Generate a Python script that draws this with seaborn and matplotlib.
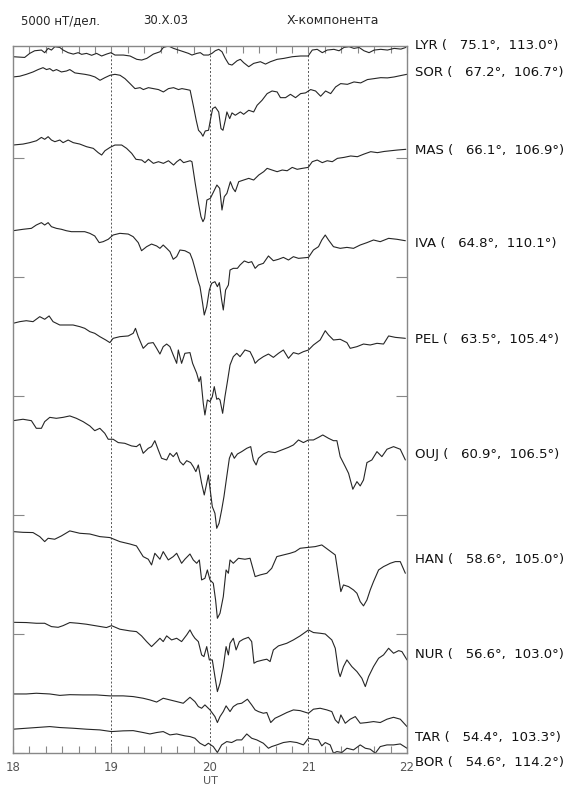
import numpy as np
import pandas as pd
import matplotlib
matplotlib.use('Agg')
import matplotlib.pyplot as plt
import matplotlib.transforms as mtransforms
import seaborn as sns

# stations, geomagnetic coordinates
stations = ['LYR', 'SOR', 'MAS', 'IVA', 'PEL', 'OUJ', 'HAN', 'NUR', 'TAR', 'BOR']
lats = [75.1, 67.2, 66.1, 64.8, 63.5, 60.9, 58.6, 56.6, 54.4, 54.6]
lons = [113.0, 106.7, 106.9, 110.1, 105.4, 106.5, 105.0, 103.0, 103.3, 114.2]

# X component, minutes after 18 UT and deviation (nT) from 18 UT value
lyr_t = [0, 7.1, 10.2, 13.2, 17.3, 19.3, 21.4, 23.4, 25.5, 28.5, 30.5, 33.6, 36.7, 39.7, 41.8, 44.8, 47.9, 50.9, 54.0, 57.0,
         59.7, 62.1, 67.2, 71.3, 75.4, 78.4, 81.5, 85.5, 89.6, 91.6, 94.7, 97.8, 100.8, 103.9, 106.9, 109.0, 112.0, 114.1,
         116.1, 119.1, 121.2, 123.2, 125.3, 127.3, 129.3, 131.4, 133.4, 136.5, 138.5, 140.5, 143.6, 146.6, 150.7, 153.8,
         156.8, 160.9, 165.0, 170.1, 175.2, 179.8, 182.3, 185.3, 188.4, 191.4, 195.5, 198.6, 201.6, 204.7, 207.7, 210.8,
         213.8, 216.9, 220.0, 224.0, 228.1, 232.2, 236.3, 239.3]
lyr_x = [0, -30, 140, 250, 280, 170, 350, 280, 420, 390, 280, 170, 110, 170, 100, 140, 60, 140, 30, 110,
         170, 70, 70, 30, -110, -140, -70, 110, 210, 390, 450, 350, 280, 210, 140, 70, 140, 170,
         70, 70, 140, 250, 310, 210, -70, -310, -350, -170, -110, -250, -420, -280, -210, -310,
         -210, -110, -70, 0, 30, 30, 280, 310, 170, 280, 310, 250, 390, 420, 350, 390,
         250, 170, 280, 310, 280, 350, 320, 390]

sor_t = [0, 4.1, 8.1, 12.2, 15.3, 18.3, 20.4, 22.4, 24.4, 26.5, 29.5, 32.6, 34.6, 37.7, 40.7, 43.8, 46.8, 49.9, 53.0, 56.0,
         59.1, 62.1, 65.2, 68.2, 71.3, 74.3, 77.4, 79.4, 82.5, 85.5, 88.6, 91.6, 94.7, 97.8, 100.8, 102.9, 105.9, 107.9,
         110.0, 111.6, 113.0, 114.5, 115.7, 117.1, 119.1, 120.2, 121.6, 123.2, 125.3, 126.7, 127.9, 129.3, 130.3, 132.0,
         133.4, 135.4, 138.5, 140.5, 143.6, 146.6, 148.7, 151.7, 154.8, 157.8, 160.9, 162.9, 166.0, 169.0, 172.1, 175.2,
         178.2, 181.3, 184.3, 187.4, 190.4, 193.5, 196.5, 199.6, 203.7, 207.7, 211.8, 215.9, 220.0, 224.0, 228.1, 232.2,
         236.3, 239.9]
sor_x = [0, 30, 110, 210, 310, 390, 310, 350, 250, 310, 210, 250, 310, 170, 140, 110, 70, 0, -140, -30,
         70, 110, 70, -70, -280, -490, -450, -530, -450, -490, -530, -630, -490, -450, -530, -490, -530, -560,
         -1260, -1820, -2240, -2350, -2490, -2270, -2240, -1820, -1330, -1260, -1470, -2170, -2240, -1820, -1470, -1750,
         -1510, -1610, -1470, -1570, -1400, -1470, -1190, -980, -700, -590, -630, -870, -870, -730, -870, -700,
         -670, -530, -590, -810, -590, -700, -420, -280, -310, -210, -250, -110, -70, -30, -40, 0,
         60, 110]

mas_t = [0, 6.1, 10.2, 14.3, 17.3, 19.3, 21.4, 23.4, 25.5, 28.5, 30.5, 33.6, 36.7, 40.7, 44.8, 48.9, 51.9, 54.0, 56.0, 59.1,
         62.1, 66.2, 69.2, 72.3, 74.9, 78.4, 80.4, 82.5, 85.5, 88.6, 91.6, 94.7, 97.8, 99.8, 101.8, 103.9, 105.9, 107.9,
         109.0, 111.0, 113.0, 114.5, 115.7, 116.7, 118.1, 120.2, 122.2, 124.2, 125.9, 127.3, 128.7, 130.3, 132.4, 134.0,
         135.4, 137.5, 140.5, 143.6, 146.6, 149.7, 152.7, 154.8, 157.8, 160.9, 164.0, 167.0, 170.1, 173.1, 176.2, 179.8,
         182.3, 185.3, 188.4, 191.4, 194.5, 197.6, 201.6, 205.7, 209.8, 213.8, 217.9, 222.0, 226.1, 230.1, 234.2, 239.3]
mas_x = [0, 40, 100, 180, 320, 240, 350, 210, 140, 210, 100, 210, 100, 40, -70, -140, -320, -420, -240, -100,
         0, 0, -140, -350, -600, -630, -740, -600, -770, -700, -770, -660, -840, -700, -600, -740, -700, -660,
         -700, -1610, -2450, -3010, -3220, -3080, -2310, -2240, -1960, -1680, -1820, -2730, -2170, -2030, -1540, -1820,
         -1960, -1540, -1470, -1400, -1470, -1260, -1120, -980, -1050, -1120, -1050, -1080, -940, -1020, -980, -940,
         -700, -630, -740, -660, -700, -560, -520, -460, -490, -380, -280, -320, -270, -240, -210, -180]

iva_t = [0, 6.1, 11.2, 14.2, 17.3, 19.3, 21.4, 23.4, 26.4, 29.5, 32.5, 35.6, 39.7, 43.7, 46.8, 49.8, 52.5, 54.9, 58.0, 61.0,
         65.1, 70.2, 73.2, 76.3, 78.3, 81.4, 84.4, 87.5, 89.5, 91.5, 93.6, 95.6, 97.6, 99.7, 101.7, 104.7, 107.8, 109.4,
         110.8, 112.9, 113.9, 115.5, 116.5, 118.0, 119.6, 121.0, 123.0, 124.5, 125.7, 127.1, 128.1, 129.5, 131.2, 132.2,
         134.2, 136.7, 138.3, 140.9, 143.4, 145.4, 147.5, 149.5, 152.5, 155.6, 158.6, 161.7, 164.7, 167.8, 170.8, 173.9,
         180.0, 183.0, 186.1, 188.1, 190.2, 192.2, 195.2, 199.3, 203.4, 207.4, 211.5, 215.6, 219.6, 223.7, 228.8, 233.9,
         239.0]
iva_x = [0, 60, 100, 240, 340, 240, 340, 170, 100, 60, 0, -40, -40, -40, -110, -220, -500, -460, -360, -180,
         -110, -140, -250, -500, -840, -670, -560, -640, -740, -600, -740, -880, -1200, -1090, -810, -840, -950, -1230,
         -1580, -2140, -2350, -3050, -3540, -3190, -2490, -2210, -2140, -2350, -2180, -2910, -3330, -2490, -2280, -1650,
         -1580, -1580, -1440, -1270, -1340, -1300, -1580, -1440, -1370, -1060, -1260, -1200, -1120, -1230, -1090, -1160,
         -1120, -810, -670, -390, -180, -390, -670, -740, -700, -740, -600, -500, -390, -460, -320, -360,
         -420]

pel_t = [0, 4.1, 8.1, 12.2, 16.3, 19.3, 22.0, 24.4, 28.5, 32.5, 36.6, 40.7, 43.7, 46.8, 49.8, 52.9, 56.5, 59.0, 61.0, 65.1,
         70.2, 73.2, 74.6, 76.3, 79.3, 82.4, 85.4, 87.5, 89.5, 91.5, 93.6, 95.6, 97.6, 99.7, 100.7, 102.7, 104.7, 107.8,
         109.4, 111.9, 113.3, 114.3, 115.9, 116.9, 118.4, 120.0, 121.4, 122.6, 124.1, 125.1, 126.1, 127.7, 129.1, 130.6,
         132.2, 134.2, 136.3, 138.3, 141.3, 144.4, 146.4, 147.5, 149.5, 152.5, 155.6, 158.6, 161.7, 164.7, 167.8, 170.8,
         173.9, 176.9, 180.0, 183.0, 187.1, 190.2, 192.2, 195.2, 199.3, 203.4, 205.4, 209.5, 213.5, 217.6, 221.7, 225.7,
         228.8, 232.9, 239.0]
pel_x = [0, 70, 110, 70, 280, 170, 310, 70, -70, -70, -70, -140, -210, -350, -420, -560, -700, -810, -630, -560,
         -530, -420, -210, -560, -1050, -840, -810, -1050, -1290, -980, -870, -980, -1330, -1680, -1120, -1680, -1260, -1230,
         -1680, -2100, -2450, -2240, -3360, -3850, -3220, -3290, -3080, -2660, -3190, -3150, -3220, -3780, -3080, -2450,
         -1750, -1400, -1260, -1400, -1120, -1190, -1470, -1680, -1540, -1400, -1290, -1430, -1260, -1120, -1470, -1230,
         -1290, -1190, -1120, -910, -700, -310, -490, -700, -670, -810, -1050, -980, -870, -910, -840, -870,
         -530, -590, -630]

ouj_t = [0, 6.1, 11.2, 14.2, 17.3, 19.3, 22.4, 26.4, 30.5, 34.6, 38.6, 42.7, 46.8, 49.8, 52.9, 55.9, 58.0, 61.0, 64.1, 68.1,
         72.2, 75.2, 77.3, 79.3, 82.4, 84.4, 86.4, 88.5, 90.5, 93.6, 95.6, 97.6, 99.7, 101.7, 103.7, 105.8, 108.2, 109.8,
         111.4, 112.9, 114.9, 116.5, 118.0, 119.0, 120.0, 121.4, 123.0, 124.1, 125.5, 127.1, 128.5, 130.2, 131.8, 133.2,
         134.8, 136.7, 139.3, 142.4, 144.8, 146.4, 148.1, 149.5, 152.5, 155.6, 159.6, 163.7, 167.8, 170.8, 173.9, 176.9,
         180.0, 183.0, 186.1, 188.7, 192.2, 195.2, 197.3, 199.3, 202.4, 204.4, 207.0, 209.5, 211.5, 213.5, 215.6, 218.6,
         221.7, 224.7, 227.8, 231.8, 235.9, 239.0]
ouj_x = [0, 60, 0, -320, -320, -40, 140, 100, 140, 200, 100, -40, -220, -420, -320, -530, -780, -780, -920, -950,
         -1060, -1090, -980, -1370, -1160, -1090, -840, -1230, -1580, -1650, -1370, -1510, -1340, -1720, -1860, -1680, -1760, -1930,
         -2140, -1860, -2630, -3120, -2630, -2280, -2840, -3610, -3890, -4520, -4310, -3750, -3190, -2350, -1580, -1340,
         -1580, -1400, -1300, -1160, -1090, -1650, -1860, -1580, -1400, -1300, -1340, -1230, -1120, -1020, -810, -920,
         -810, -810, -700, -600, -740, -840, -840, -1510, -1930, -2210, -2880, -2560, -2740, -2490, -1760, -1650,
         -1300, -1510, -1200, -1090, -1200, -1650]

han_t = [0, 6.1, 12.2, 16.3, 19.3, 21.4, 25.4, 29.5, 34.6, 40.7, 46.8, 52.9, 59.0, 65.1, 71.2, 75.2, 79.3, 82.4, 84.4, 86.4,
         89.5, 91.5, 94.6, 97.6, 99.7, 102.7, 104.7, 107.8, 109.8, 111.9, 113.5, 114.9, 116.9, 118.4, 120.0, 122.0, 123.4,
         124.5, 126.1, 128.1, 129.8, 131.2, 132.2, 134.2, 137.3, 141.3, 144.4, 147.5, 150.5, 154.6, 157.6, 160.7, 164.7,
         168.8, 171.9, 174.9, 180.0, 184.1, 188.1, 192.2, 196.3, 198.3, 199.7, 201.3, 204.4, 207.4, 209.5, 211.5, 213.5,
         215.6, 217.6, 219.6, 222.7, 225.7, 227.8, 229.8, 232.9, 235.9, 239.0]
han_x = [0, -30, -40, -210, -420, -280, -320, -180, 30, -70, -100, -210, -250, -420, -520, -600, -1050, -1160, -1400, -910,
         -1160, -840, -1190, -1050, -910, -1330, -1160, -940, -1190, -1330, -1190, -2030, -1960, -1610, -2030, -2170, -2870,
         -3640, -3430, -2730, -1610, -1750, -1190, -1330, -1120, -1160, -1120, -1890, -1820, -1750, -1540, -1050, -980,
         -910, -840, -700, -660, -630, -560, -770, -980, -1890, -2520, -2240, -2310, -2450, -2590, -2940, -3120,
         -2870, -2450, -2100, -1610, -1470, -1400, -1330, -1260, -1260, -1750]

nur_t = [0, 8.1, 14.2, 19.3, 23.4, 27.5, 30.5, 34.6, 39.7, 44.7, 50.8, 56.9, 60.0, 65.1, 71.2, 75.2, 78.3, 81.4, 84.4, 87.5,
         89.5, 91.5, 93.6, 96.6, 99.7, 102.7, 105.8, 107.8, 109.4, 110.8, 112.9, 114.9, 116.3, 118.0, 119.6, 121.4, 123.0,
         124.5, 126.1, 128.1, 129.8, 131.2, 132.2, 134.2, 135.9, 137.9, 140.3, 143.4, 145.4, 146.8, 148.5, 152.5, 154.6,
         156.6, 158.6, 161.7, 166.8, 170.8, 174.9, 180.0, 183.0, 187.1, 190.2, 194.2, 196.3, 198.3, 199.3, 201.3, 203.4,
         206.4, 209.5, 212.5, 214.6, 216.6, 219.6, 222.7, 225.7, 228.8, 231.8, 234.9, 236.9, 240.0]
nur_x = [0, -10, -40, -40, -180, -210, -140, -10, -40, -80, -150, -220, -140, -290, -360, -390, -570, -810, -1020, -810,
         -670, -810, -570, -740, -670, -810, -530, -320, -530, -670, -810, -1370, -1440, -1020, -1580, -1580, -2280,
         -2910, -2560, -1860, -1020, -1370, -880, -670, -1160, -810, -710, -630, -810, -1720, -1650, -1580, -1550,
         -1650, -1160, -990, -880, -740, -570, -320, -430, -460, -490, -740, -1090, -2070, -2280, -1860, -1580,
         -1860, -2070, -2350, -2700, -2280, -1860, -1510, -1370, -1090, -1300, -1190, -1230, -1580]

tar_t = [0, 8.1, 14.2, 22.4, 28.5, 34.6, 42.7, 50.8, 59.0, 67.1, 73.2, 79.3, 83.4, 87.5, 91.5, 95.6, 99.7, 103.7, 107.8, 110.8,
         112.9, 114.9, 116.9, 120.0, 123.0, 124.5, 126.1, 128.1, 129.8, 132.2, 134.2, 136.7, 139.3, 142.8, 145.4, 147.5,
         149.5, 152.5, 154.6, 157.0, 159.6, 162.7, 166.8, 170.8, 174.9, 180.0, 183.0, 187.1, 191.2, 194.2, 196.3, 198.3,
         199.7, 202.4, 205.4, 208.5, 211.5, 215.6, 219.6, 223.7, 227.8, 231.8, 235.9, 240.0]
tar_x = [0, 0, 30, 0, -60, -30, -40, -40, -80, -80, -110, -180, -250, -340, -180, -250, -320, -390, -140, -320,
         -530, -600, -460, -670, -950, -1200, -950, -740, -500, -740, -530, -420, -390, -220, -460, -670,
         -740, -810, -780, -1200, -1020, -920, -780, -670, -700, -810, -640, -600, -670, -740, -1090, -1230,
         -880, -1230, -1060, -950, -1230, -1200, -1160, -1200, -1060, -980, -1060, -1370]

bor_t = [0, 8.1, 14.2, 22.4, 28.5, 36.6, 44.7, 52.9, 60.0, 67.1, 73.2, 79.3, 83.4, 87.5, 91.5, 95.6, 99.7, 104.7, 107.8, 110.8,
         113.9, 116.9, 119.0, 122.0, 124.5, 127.1, 130.2, 133.2, 136.3, 139.3, 142.4, 145.4, 148.5, 152.5, 155.6, 157.6,
         160.7, 164.7, 168.8, 172.9, 176.9, 180.0, 183.0, 186.1, 188.1, 190.2, 193.2, 195.2, 197.3, 200.3, 203.4, 207.4,
         211.5, 214.6, 217.6, 220.7, 223.7, 227.8, 231.8, 235.9, 240.0]
bor_x = [0, 40, 70, 110, 70, 40, 0, -30, -100, -70, -60, -140, -200, -140, -100, -240, -200, -280, -310, -380,
         -590, -700, -590, -730, -980, -660, -520, -560, -450, -450, -200, -380, -450, -590, -800, -730,
         -660, -560, -520, -560, -660, -380, -420, -450, -700, -560, -660, -1010, -940, -980, -800, -870,
         -660, -800, -840, -1010, -730, -660, -660, -620, -800]

times = [lyr_t, sor_t, mas_t, iva_t, pel_t, ouj_t, han_t, nur_t, tar_t, bor_t]
values = [lyr_x, sor_x, mas_x, iva_x, pel_x, ouj_x, han_x, nur_x, tar_x, bor_x]

# vertical stacking of the traces (nT above the bottom of the panel)
offsets = [29250, 28400, 25540, 21940, 18050, 13960, 9300, 5490, 2480, 1000]
label_pos = [29740, 28600, 25320, 21420, 17350, 12520, 8110, 4120, 670, -380]

frames = []
for name, t, x, off in zip(stations, times, values, offsets):
    frames.append(pd.DataFrame({'UT': 18 + np.array(t) / 60.0,
                                'nT': np.array(x) + off,
                                'station': name}))
df = pd.concat(frames, ignore_index=True)

sns.set_style('ticks')
plt.rcParams['font.family'] = ['DejaVu Sans']

fig = plt.figure(figsize=(5.73, 7.85), dpi=100)
ax = fig.add_axes([13 / 573, 32 / 785, 394 / 573, 707 / 785])

sns.lineplot(data=df, x='UT', y='nT', units='station', estimator=None,
             color='#262626', lw=0.8, ax=ax, legend=False)

for h in [19, 20, 21]:
    ax.axvline(h, color='#555555', ls=(0, (2, 2)), lw=0.7, zorder=0)

ax.set_xlim(18, 22)
ax.set_ylim(0, 29700)
ax.set_xticks([18, 19, 20, 21, 22])
ax.set_xticks(np.arange(18, 22.01, 1 / 6), minor=True)
ax.set_yticks(np.arange(0, 29000, 5000))
ax.set_yticklabels([])
ax.tick_params(axis='x', which='both', direction='in', top=True, bottom=True,
               length=5, width=0.8, color='#888888', labelsize=8.5,
               labelcolor='#555555', pad=6)
ax.tick_params(axis='y', which='both', direction='in', left=True, right=True,
               length=8, width=0.8, color='#888888')
for s in ax.spines.values():
    s.set_color('#888888')
    s.set_linewidth(1.0)
ax.set_xlabel('UT', fontsize=8, color='#555555', labelpad=1)
ax.set_ylabel('')

trans = mtransforms.blended_transform_factory(ax.transAxes, ax.transData)
for name, la, lo, yl in zip(stations, lats, lons, label_pos):
    ax.text(1.02, yl, f'{name} (   {la:.1f}°,  {lo:.1f}°)', transform=trans,
            va='center', ha='left', fontsize=9.5, color='#111111', clip_on=False)

fig.text(21 / 573, 1 - 21 / 785, '5000 нТ/дел.', va='center', ha='left', fontsize=8.5)
fig.text(143 / 573, 1 - 21 / 785, '30.X.03', va='center', ha='left', fontsize=8.5)
fig.text(287 / 573, 1 - 21 / 785, 'X-компонента', va='center', ha='left', fontsize=9)

fig.savefig('out.png', dpi=100)
